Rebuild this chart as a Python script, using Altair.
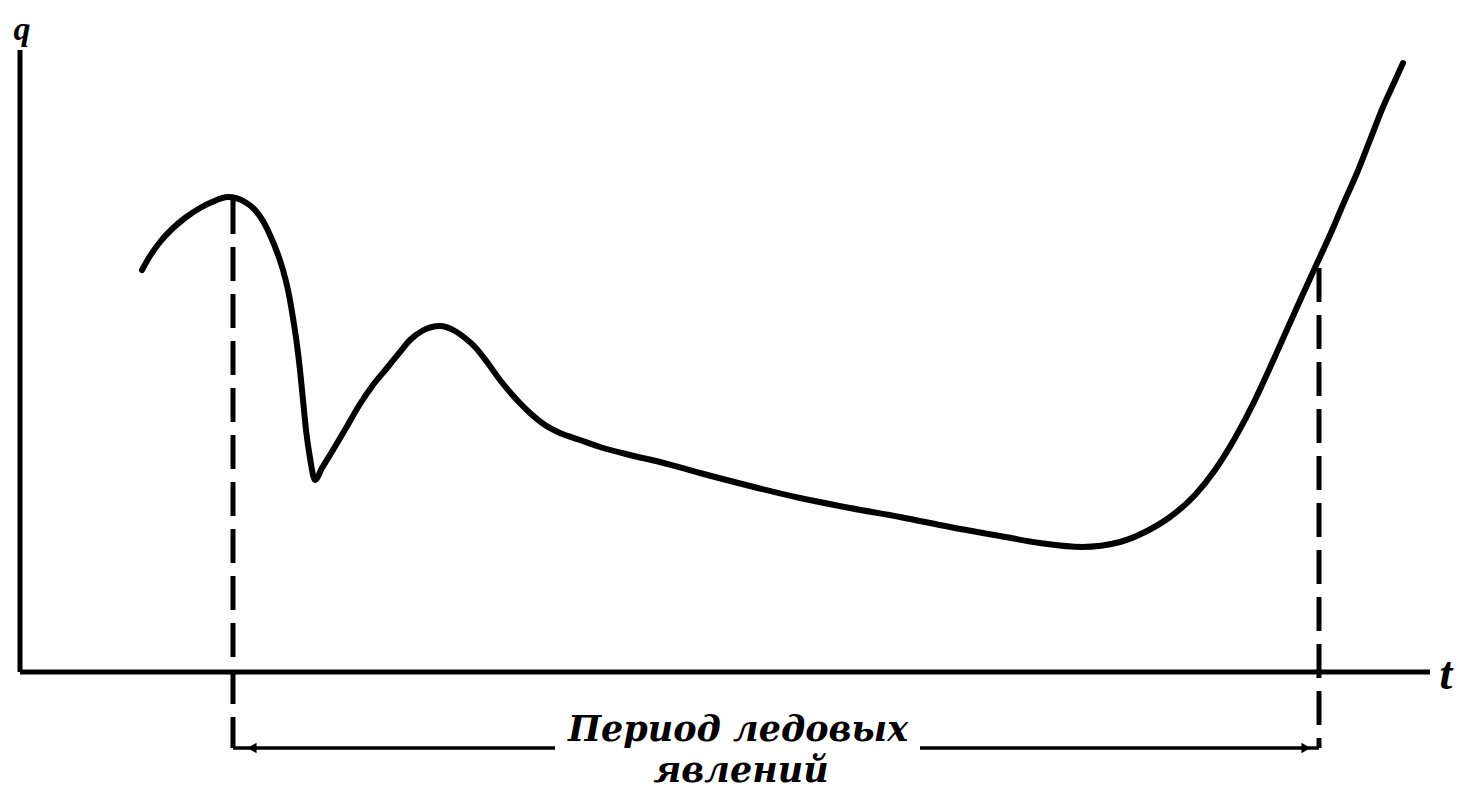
import altair as alt
import pandas as pd

# Curve (t, q), in chart units (origin at axis corner)
curve_px = [142,150,160,172,185,200,212,228,245,255,263,270,277,283,288,293,297,300,303,306,310,315,
            322,333,346,360,373,387,400,410,422,440,455,465,475,487,500,517,530,545,560,580,600,630,660,
            700,750,800,850,900,950,1000,1040,1082,1120,1145,1170,1195,1215,1235,1255,1268,1281,1298,
            1313,1330,1345,1357,1370,1383,1393,1403]
curve_py = [270,256,242,229,218,208,202,197,202,210,221,235,252,270,290,318,345,370,400,430,458,480,
            468,450,428,404,385,368,352,340,331,326,331,338,347,362,380,400,413,425,433,440,447,455,462,
            473,486,498,508,517,527,536,543,547,542,532,517,495,470,438,400,372,343,305,
            272,235,200,173,140,107,85,63]
t_vals = [(x - 20) / 10 for x in curve_px]
q_vals = [(672 - y) / 10 for y in curve_py]

# Ice period boundaries
ice_start_t = 21.3
ice_end_t = 129.9
ice_start_q_top = 47.2
ice_end_q_top = 40.4
bracket_q = -7.6

label_lines = ["Период ледовых", "явлений"]

W, H = 1447, 782
xs = alt.Scale(domain=[-1.2, 143.5])
ys = alt.Scale(domain=[-11.8, 66.4])

def X(f="t"):
    return alt.X(f"{f}:Q", scale=xs, axis=None)

def Y(f="q"):
    return alt.Y(f"{f}:Q", scale=ys, axis=None)

curve_df = pd.DataFrame({"t": t_vals, "q": q_vals, "o": range(len(t_vals))})
curve = alt.Chart(curve_df).mark_line(color="black", strokeWidth=6, interpolate="monotone",
                                       strokeCap="round", clip=False).encode(
    x=X(), y=Y(), order="o:O")

axes_df = pd.DataFrame({"t": [0, 0], "q": [0, 0], "t2": [0, 141], "q2": [62.2, 0]})
axes = alt.Chart(axes_df).mark_rule(color="black", strokeWidth=5, clip=False).encode(
    x=X(), y=Y(), x2="t2:Q", y2="q2:Q")

dash_df = pd.DataFrame({"t": [ice_start_t, ice_end_t], "q": [ice_start_q_top, ice_end_q_top],
                        "q2": [bracket_q, bracket_q]})
dashes = alt.Chart(dash_df).mark_rule(color="black", strokeWidth=5, strokeDash=[34, 13], clip=False).encode(
    x=X(), y=Y(), y2="q2:Q")

br_df = pd.DataFrame({"t": [ice_start_t, 90.0], "t2": [53.5, ice_end_t], "q": [bracket_q, bracket_q]})
bracket = alt.Chart(br_df).mark_rule(color="black", strokeWidth=3.5, clip=False).encode(
    x=X(), x2="t2:Q", y=Y())

arr_df = pd.DataFrame({"t": [23.2, 128.6], "q": [bracket_q, bracket_q],
                       "s": ["triangle-left", "triangle-right"]})
arrows = alt.Chart(arr_df).mark_point(filled=True, color="black", size=110, opacity=1, clip=False).encode(
    x=X(), y=Y(), shape=alt.Shape("s:N", scale=None, legend=None))

txt_df = pd.DataFrame({"t": [71.8, 72.1], "q": [-6.85, -10.95], "label": label_lines})
texts = alt.Chart(txt_df).mark_text(font="DejaVu Serif", fontStyle="italic", fontWeight="bold",
                                    fontSize=35, baseline="alphabetic", align="center",
                                    color="black", clip=False).encode(
    x=X(), y=Y(), text="label:N")

ax_lab_df = pd.DataFrame({"t": [0.2, 142.6], "q": [63.25, -1.7], "label": ["q", "t"],
                          "fs": [34, 46]})
ax_labels = alt.Chart(ax_lab_df).mark_text(font="Liberation Serif", fontStyle="italic", fontWeight="bold",
                                           baseline="alphabetic", align="center",
                                           color="black", clip=False).encode(
    x=X(), y=Y(), text="label:N", size=alt.Size("fs:Q", scale=None, legend=None))

chart = alt.layer(axes, dashes, bracket, arrows, curve, texts, ax_labels).properties(
    width=W, height=H, autosize=alt.AutoSizeParams(type="none"), padding=0,
    background="white"
).configure_view(stroke=None)

chart.save("out.html", embed_options={"renderer": "svg", "actions": False})
